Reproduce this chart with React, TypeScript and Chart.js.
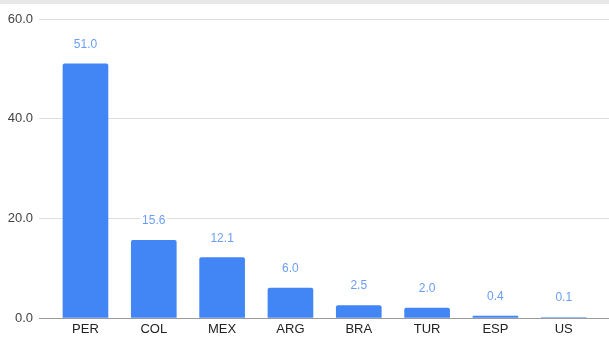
import React, { useEffect, useRef } from "react";
import { Chart, registerables } from "chart.js";

Chart.register(...registerables);

const categories: string[] = ["PER", "COL", "MEX", "ARG", "BRA", "TUR", "ESP", "US"];
const values: number[] = [51.0, 15.6, 12.1, 6.0, 2.5, 2.0, 0.4, 0.1];
const yTicks: number[] = [0, 20, 40, 60];

const BAR_BLUE = "#4285f4";
const LABEL_BLUE = "#6a9df5";
const FONT = "'Liberation Sans', Arial, Helvetica, sans-serif";

// Page background plus the thin grey strip along the top edge.
const backdrop = {
  id: "backdrop",
  beforeDraw(chart: Chart) {
    const { ctx, width, height } = chart;
    ctx.save();
    ctx.fillStyle = "#ffffff";
    ctx.fillRect(0, 0, width, height);
    ctx.fillStyle = "#e8e8e8";
    ctx.fillRect(0, 0, width, 4);
    ctx.restore();
  },
};

// Value annotations above each bar, on a white plate that cuts the gridlines.
const valueLabels = {
  id: "valueLabels",
  afterDatasetsDraw(chart: Chart) {
    const { ctx } = chart;
    const meta = chart.getDatasetMeta(0);
    ctx.save();
    ctx.font = `12px ${FONT}`;
    ctx.textAlign = "center";
    ctx.textBaseline = "middle";
    meta.data.forEach((bar: any, i: number) => {
      const text = values[i].toFixed(1);
      const x = bar.x;
      const y = bar.y - 20;
      const w = ctx.measureText(text).width;
      ctx.fillStyle = "#ffffff";
      ctx.fillRect(x - w / 2 - 2, y - 7, w + 4, 14);
      ctx.fillStyle = LABEL_BLUE;
      ctx.fillText(text, x, y + 0.5);
    });
    ctx.restore();
  },
};

export default function App() {
  const canvasRef = useRef<HTMLCanvasElement | null>(null);

  useEffect(() => {
    document.body.style.margin = "0";
    document.body.style.overflow = "hidden";
    const canvas = canvasRef.current;
    if (!canvas) return;

    const chart = new Chart(canvas, {
      type: "bar",
      data: {
        datasets: [
          {
            data: values.map((v, i) => ({ x: i, y: v })),
            backgroundColor: BAR_BLUE,
            barThickness: 45,
            borderRadius: { topLeft: 2, topRight: 2, bottomLeft: 0, bottomRight: 0 },
            borderSkipped: "bottom",
          },
        ],
      },
      options: {
        animation: false,
        responsive: false,
        events: [],
        layout: { padding: { top: 19, right: 0, bottom: 0, left: 0 } },
        plugins: {
          legend: { display: false },
          tooltip: { enabled: false },
          title: { display: false },
        },
        scales: {
          x: {
            type: "linear",
            offset: false,
            min: -0.68,
            max: 7.662,
            grid: { display: false, drawTicks: false },
            border: { display: false },
            afterFit: (scale: any) => {
              scale.height = 20;
            },
            afterBuildTicks: (scale: any) => {
              scale.ticks = categories.map((_, i) => ({ value: i }));
            },
            ticks: {
              autoSkip: false,
              maxRotation: 0,
              minRotation: 0,
              padding: 4,
              color: "#222222",
              font: { family: FONT, size: 13 },
              callback: (v: any) => categories[Number(v)] ?? "",
            },
          },
          y: {
            min: 0,
            max: 60,
            afterFit: (scale: any) => {
              scale.width = 39;
            },
            afterBuildTicks: (scale: any) => {
              scale.ticks = yTicks.map((v) => ({ value: v }));
            },
            grid: {
              drawTicks: false,
              lineWidth: 1,
              color: (c: any) => (c.tick && c.tick.value === 0 ? "#9a9a9a" : "#dedede"),
            },
            border: { display: false },
            ticks: {
              padding: 6,
              color: "#444444",
              font: { family: FONT, size: 13 },
              callback: (v: any) => Number(v).toFixed(1),
            },
          },
        },
      },
      plugins: [backdrop, valueLabels],
    });

    return () => chart.destroy();
  }, []);

  return (
    <div style={{ position: "relative", width: 609, height: 338 }}>
      <canvas ref={canvasRef} width={609} height={338} style={{ display: "block" }} />
    </div>
  );
}
